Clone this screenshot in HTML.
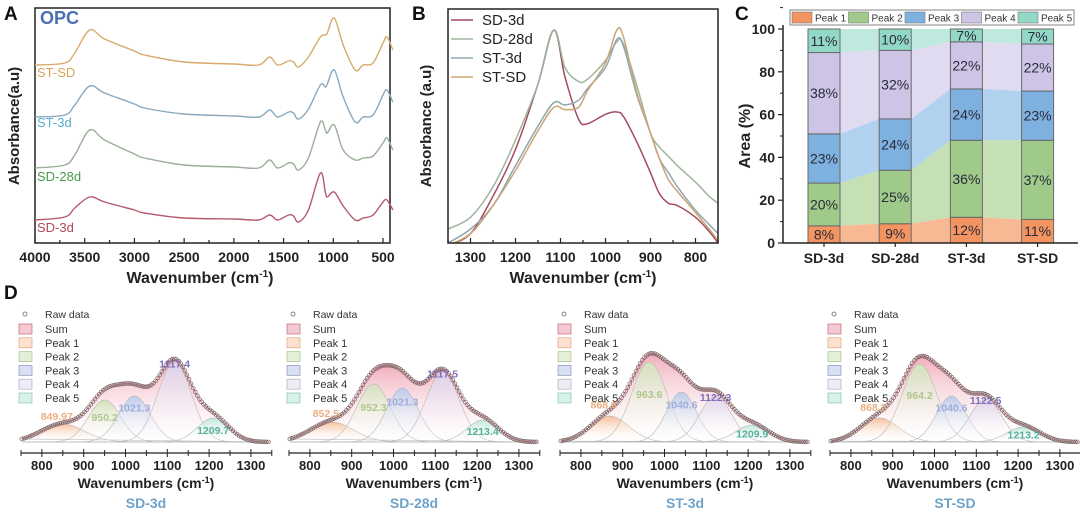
<!DOCTYPE html>
<html><head><meta charset="utf-8"><style>
body{margin:0;background:#fff}
svg{display:block;font-family:"Liberation Sans",Arial,sans-serif}
</style></head><body>
<svg id="fig" width="1080" height="514" viewBox="0 0 1080 514" xmlns="http://www.w3.org/2000/svg">
<defs>
<linearGradient id="gSum" x1="0" y1="0" x2="0" y2="1"><stop offset="0" stop-color="#ee9fb0" stop-opacity="0.85"/><stop offset="1" stop-color="#fff" stop-opacity="0.2"/></linearGradient>
<linearGradient id="gP1" x1="0" y1="0" x2="0" y2="1"><stop offset="0" stop-color="#f6c09a"/><stop offset="1" stop-color="#fff" stop-opacity="0"/></linearGradient>
<linearGradient id="gP2" x1="0" y1="0" x2="0" y2="1"><stop offset="0" stop-color="#d3e4bd"/><stop offset="1" stop-color="#fff" stop-opacity="0"/></linearGradient>
<linearGradient id="gP3" x1="0" y1="0" x2="0" y2="1"><stop offset="0" stop-color="#bccbeb"/><stop offset="1" stop-color="#fff" stop-opacity="0"/></linearGradient>
<linearGradient id="gP4" x1="0" y1="0" x2="0" y2="1"><stop offset="0" stop-color="#dcd3ec"/><stop offset="1" stop-color="#fff" stop-opacity="0"/></linearGradient>
<linearGradient id="gP5" x1="0" y1="0" x2="0" y2="1"><stop offset="0" stop-color="#bfe9dc"/><stop offset="1" stop-color="#fff" stop-opacity="0"/></linearGradient>
</defs>
</svg>
<script>
// ---------- Panel A data (wavenumber, offset above baseline in px) ----------
const aNames = ["ST-SD","ST-3d","SD-28d","SD-3d"];
const aWn = [4000,3700,3600,3450,3300,3000,2900,2500,2000,1750,1640,1560,1450,1400,1350,1250,1130,1080,1060,990,900,780,700,600,500,460,400];
const aSTSD = [0,2,12,35,26,14,10,3,1,0,8,0,4,3,-2,8,28,30,32,47,20,-5,0,2,22,28,15];
const aST3d = [0,2,12,31,24,13,9,3,1,0,7,0,5,4,-2,8,32,30,33,47,20,-5,0,2,22,27,15];
const aSD28 = [0,3,13,38,28,14,10,3,1,0,8,0,5,4,-2,10,46,38,35,43,18,8,10,12,25,30,18];
const aSD3d = [0,3,12,23,18,10,7,2,1,0,5,0,5,4,-2,10,47,28,23,28,14,0,2,5,18,20,10];
const aBase = [65,117,168,220];
// ---------- Panel B data (fraction of plot height) ----------
const bNames = ["SD-3d","SD-28d","ST-3d","ST-SD"];
const bWn = [1350,1300,1250,1200,1150,1115,1090,1060,1040,1000,975,960,930,900,880,860,840,800,770,750];
const bSD3d = [-0.01,0.04,0.20,0.40,0.68,0.91,0.71,0.53,0.51,0.55,0.56,0.54,0.43,0.30,0.21,0.17,0.16,0.11,0.05,0.0];
const bSD28 = [0.06,0.11,0.24,0.44,0.68,0.91,0.75,0.69,0.70,0.78,0.86,0.85,0.67,0.47,0.41,0.37,0.33,0.26,0.20,0.17];
const bST3d = [0.0,0.06,0.16,0.33,0.50,0.60,0.59,0.61,0.66,0.75,0.87,0.84,0.63,0.47,0.36,0.30,0.24,0.14,0.08,0.04];
const bSTSD = [-0.01,0.04,0.16,0.31,0.48,0.58,0.57,0.58,0.65,0.77,0.91,0.88,0.64,0.47,0.36,0.27,0.22,0.13,0.06,0.01];
// ---------- Panel C data ----------
const cCats = ["SD-3d","SD-28d","ST-3d","ST-SD"];
const cPeaks = ["Peak 1","Peak 2","Peak 3","Peak 4","Peak 5"];
const cP1 = [8,9,12,11];
const cP2 = [20,25,36,37];
const cP3 = [23,24,24,23];
const cP4 = [38,32,22,22];
const cP5 = [11,10,7,7];
const cTicks = [0,20,40,60,80,100];
// ---------- Panel D data (peak centers, heights px, sigmas) ----------
const dNames = ["SD-3d","SD-28d","ST-3d","ST-SD"];
const dCenters = [[849.97,950.2,1021.3,1117.4,1209.7],[852.5,952.3,1021.3,1117.5,1213.4],[868.9,963.6,1040.6,1122.3,1209.9],[868.2,964.2,1040.6,1122.5,1213.2]];
const dHeights = [[18,42,46,80,24],[20,58,54,70,22],[26,80,50,46,17],[24,78,46,43,15]];
const dSigmas = [[52,38,38,40,38],[52,40,38,40,38],[46,42,36,38,40],[46,42,36,38,40]];
const dLabels = [["849.97","950.2","1021.3","1117.4","1209.7"],["852.5","952.3","1021.3","1117.5","1213.4"],["868.9","963.6","1040.6","1122.3","1209.9"],["868.2","964.2","1040.6","1122.5","1213.2"]];
const dTicks = [800,900,1000,1100,1200,1300];

const svg = document.getElementById('fig');
const NS = "http://www.w3.org/2000/svg";
function mk(tag, attrs, parent){const e=document.createElementNS(NS,tag);for(const k in attrs)e.setAttribute(k,attrs[k]);(parent||svg).appendChild(e);return e;}
function txt(s,x,y,size,opts,parent){const e=mk('text',Object.assign({x:x,y:y,'font-size':size},opts||{}),parent);e.textContent=s;return e;}
function smooth(pts){let d="M"+pts[0][0].toFixed(1)+","+pts[0][1].toFixed(1);for(let i=0;i<pts.length-1;i++){const p0=pts[i-1]||pts[i],p1=pts[i],p2=pts[i+1],p3=pts[i+2]||p2;const c1=[p1[0]+(p2[0]-p0[0])/6,p1[1]+(p2[1]-p0[1])/6],c2=[p2[0]-(p3[0]-p1[0])/6,p2[1]-(p3[1]-p1[1])/6];d+="C"+c1[0].toFixed(1)+","+c1[1].toFixed(1)+" "+c2[0].toFixed(1)+","+c2[1].toFixed(1)+" "+p2[0].toFixed(1)+","+p2[1].toFixed(1);}return d;}

// ===== Panel A =====
const gA = mk('g',{});


const axL=35, axR=390, axT=8, axB=243;
const xA = w => axL + (4000-w)*(348/3500);
mk('rect',{x:axL,y:axT,width:axR-axL,height:axB-axT,fill:'none',stroke:'#222','stroke-width':1.5},gA);
const aSeries=[aSTSD,aST3d,aSD28,aSD3d];
const aLine=['#d8aa6a','#8aa8bc','#9aae98','#b35a6c'];
const aTxt=['#d9a55a','#5aaed0','#4a9a4a','#b04a5a'];
const aLabY=[77,127,181,232];
aSeries.forEach((s,i)=>{
  const p=mk('path',{d:smooth(aWn.map((w,j)=>[xA(w),aBase[i]-s[j]])),fill:'none',stroke:aLine[i],'stroke-width':1.4},gA);
  
  
  const t=txt(aNames[i],37,aLabY[i],13,{fill:aTxt[i]},gA);
  
  
});
for(let w=4000;w>=500;w-=250){const x=xA(w);const big=w%500===0;mk('line',{x1:x,x2:x,y1:axB,y2:axB-(big?5:3),stroke:'#222','stroke-width':1.2},gA);
  if(big){const t=txt(String(w),x,262,14,{'font-weight':'bold','text-anchor':'middle',fill:'#222'},gA);}}
txt('Wavenumber (cm',200,283,16,{'font-weight':'bold','text-anchor':'middle',fill:'#222',},gA).innerHTML='Wavenumber (cm<tspan dy="-6" font-size="10">-1</tspan><tspan dy="6">)</tspan>';
txt('Absorbance(a.u)',0,0,15,{'font-weight':'bold','text-anchor':'middle',fill:'#222',transform:'translate(19,126) rotate(-90)',},gA);
txt('OPC',40,24,18,{'font-weight':'bold',fill:'#4b6fb2',},gA);
txt('A',4,20,19,{'font-weight':'bold',fill:'#111',},gA);

// ===== Panel B =====
const gB = mk('g',{});


const bL=448,bR=718,bT=9,bB=243;
const xB=w=>bL+(1350-w)*(bR-bL)/600, yB=v=>bB-v*(bB-bT);
const cp=mk('clipPath',{id:'clipB'},gB);mk('rect',{x:bL,y:bT,width:bR-bL,height:bB-bT},cp);
const bSeries=[bSD3d,bSD28,bST3d,bSTSD];
const bCol=['#a34b5e','#9fb59d','#8fa8b2','#cda574'];
bSeries.forEach((s,i)=>{const p=mk('path',{d:smooth(bWn.map((w,j)=>[xB(w),yB(s[j])])),fill:'none',stroke:bCol[i],'stroke-width':1.5,'clip-path':'url(#clipB)'},gB);
  
  
  const ly=20+i*19;
  mk('line',{x1:451,x2:473,y1:ly,y2:ly,stroke:bCol[i],'stroke-width':1.6},gB);
  const t=txt(bNames[i],482,ly+5,15,{fill:'#222'},gB);
  
  
});
mk('rect',{x:bL,y:bT,width:bR-bL,height:bB-bT,fill:'none',stroke:'#222','stroke-width':1.5},gB);
for(let w=1350;w>=750;w-=50){const x=xB(w);const big=w%100===0;mk('line',{x1:x,x2:x,y1:bB,y2:bB-(big?5:3),stroke:'#222','stroke-width':1.2},gB);
  if(big&&w<=1300&&w>=800){const t=txt(String(w),x,262,14,{'font-weight':'bold','text-anchor':'middle',fill:'#222'},gB);}}
txt('',583,283,16,{'font-weight':'bold','text-anchor':'middle',fill:'#222',},gB).innerHTML='Wavenumber (cm<tspan dy="-6" font-size="10">-1</tspan><tspan dy="6">)</tspan>';
txt('Absorbance (a.u)',0,0,15,{'font-weight':'bold','text-anchor':'middle',fill:'#222',transform:'translate(431,126) rotate(-90)',},gB);
txt('B',412,20,19,{'font-weight':'bold',fill:'#111',},gB);

// ===== Panel C =====
const gC = mk('g',{});


const cL=783,cR=1078,cT=29,cB=243;
const yC=v=>cB-v*(cB-cT)/100;
const xC=i=>824+i*71.2, bw=32;
const cVals=[cP1,cP2,cP3,cP4,cP5];
const barCol=['#f39461','#9fca8a','#7eb1df','#cdc4e6','#92d8c7'];
const bandCol=['#f9b894','#c5e0b4','#b0d2ee','#e0dbf0','#bfe9de'];
const cum=cCats.map((_,i)=>{let s=0;return cVals.map(v=>{s+=v[i];return Math.min(s,100);});});
for(let k=4;k>=0;k--){const top=[],bot=[];cCats.forEach((_,i)=>{const lo=k?cum[i][k-1]:0,hi=cum[i][k];top.push([xC(i)-bw/2,yC(hi)],[xC(i)+bw/2,yC(hi)]);bot.push([xC(i)-bw/2,yC(lo)],[xC(i)+bw/2,yC(lo)]);});
  const d='M'+top.map(p=>p.join(',')).join('L')+'L'+bot.reverse().map(p=>p.join(',')).join('L')+'Z';
  const p=mk('path',{d:d,fill:bandCol[k]},gC);}
cCats.forEach((c,i)=>{cVals.forEach((v,k)=>{const lo=k?cum[i][k-1]:0,hi=cum[i][k];
  const r=mk('rect',{x:xC(i)-bw/2,y:yC(hi),width:bw,height:yC(lo)-yC(hi),fill:barCol[k],stroke:'#6a6a6a','stroke-width':1},gC);
  
  const t=txt(v[i]+'%',xC(i),(yC(hi)+yC(lo))/2+5,14,{'text-anchor':'middle',fill:'#2a2a3a'},gC);});
  const t=txt(c,xC(i),263,14,{'font-weight':'bold','text-anchor':'middle',fill:'#222'},gC);
  mk('line',{x1:xC(i),x2:xC(i),y1:cB,y2:cB+4,stroke:'#222','stroke-width':1.2},gC);});
mk('line',{x1:cL,x2:cL,y1:cT-4,y2:cB,stroke:'#222','stroke-width':1.5},gC);
mk('line',{x1:cL,x2:cR,y1:cB,y2:cB,stroke:'#222','stroke-width':1.5},gC);
cTicks.forEach(v=>{mk('line',{x1:cL-5,x2:cL,y1:yC(v),y2:yC(v),stroke:'#222','stroke-width':1.2},gC);mk('line',{x1:cL-3,x2:cL,y1:yC(v+10),y2:yC(v+10),stroke:'#222','stroke-width':1},gC);
  const t=txt(String(v),cL-8,yC(v)+5,14,{'font-weight':'bold','text-anchor':'end',fill:'#222'},gC);});
txt('Area (%)',0,0,16,{'font-weight':'bold','text-anchor':'middle',fill:'#222',transform:'translate(750,136) rotate(-90)',},gC);
mk('rect',{x:790,y:10,width:284,height:15,fill:'#fff',stroke:'#666','stroke-width':0.8},gC);
cPeaks.forEach((p,k)=>{const x=792+k*56.5;const r=mk('rect',{x:x,y:12,width:20,height:11,fill:barCol[k],stroke:'#777','stroke-width':0.6},gC);
  
  const t=txt(p,x+23,21.5,10,{fill:'#333'},gC);});
txt('C',735,20,19,{'font-weight':'bold',fill:'#111',},gC);

// ===== Panel D =====
txt('D',4,299,19,{'font-weight':'bold',fill:'#111',});
const dOff=[0,268,539,809];
const pFill=['url(#gP1)','url(#gP2)','url(#gP3)','url(#gP4)','url(#gP5)'];
const pLab=['#e9a574','#a9c386','#93a9d9','#7462b3','#45aa92'];
const legNames=['Sum','Peak 1','Peak 2','Peak 3','Peak 4','Peak 5'];
const legFill=['#f5c9d2','#fde1cf','#e4efd7','#d8e0f2','#eeecf5','#d8f2ea'];
const legStroke=['#c26a7c','#e3a586','#abc293','#8795c3','#b4acc9','#86c2b2'];
const labDy=[1.45,0.6,0.75,0.98,0.5];
const base=442;
dNames.forEach((nm,s)=>{
  const g=mk('g',{});
  
  
  const o=dOff[s];
  const xD=w=>o+21+(w-750)*0.418;
  const gauss=(k,w)=>dHeights[s][k]*Math.exp(-Math.pow(w-dCenters[s][k],2)/(2*dSigmas[s][k]*dSigmas[s][k]));
  const ws=[];for(let w=752;w<=1345;w+=4)ws.push(w);
  const sum=w=>{let t=0;for(let k=0;k<5;k++)t+=gauss(k,w);return t;};
  const sp=ws.map(w=>[xD(w),base-sum(w)]);
  mk('path',{d:'M'+sp.map(p=>p[0].toFixed(1)+','+p[1].toFixed(1)).join('L')+'L'+xD(1345)+','+base+'L'+xD(752)+','+base+'Z',fill:'url(#gSum)'},g);
  for(let k=0;k<5;k++){const pp=ws.map(w=>[xD(w),base-gauss(k,w)]);
    const p=mk('path',{d:'M'+pp.map(p=>p[0].toFixed(1)+','+p[1].toFixed(1)).join('L')+'Z',fill:pFill[k],stroke:'#b8b8b8','stroke-width':0.6},g);
    }
  mk('line',{x1:xD(752),x2:xD(1345),y1:base,y2:base,stroke:'#bbb','stroke-width':0.6},g);
  const sl=mk('path',{d:'M'+sp.map(p=>p[0].toFixed(1)+','+p[1].toFixed(1)).join('L'),fill:'none',stroke:'#c07080','stroke-width':0.8},g);
  
  for(let w=752;w<=1345;w+=5){mk('circle',{cx:xD(w),cy:base-sum(w),r:1.9,fill:'none',stroke:'#7a6262','stroke-width':0.7},g);}
  for(let k=0;k<5;k++){const t=txt(dLabels[s][k],xD(dCenters[s][k])-(k===0?6:0),base-dHeights[s][k]*labDy[k]+4,10.5,{'font-weight':'bold','text-anchor':'middle',fill:pLab[k],'fill-opacity':0.9},g);
    }
  mk('line',{x1:o+21,x2:o+272,y1:453,y2:453,stroke:'#222','stroke-width':1.3},g);
  for(let w=750;w<=1350;w+=50){const x=xD(w);const big=w%100===0;mk('line',{x1:x,x2:x,y1:big?449:450,y2:big?457:456,stroke:'#222','stroke-width':1},g);}
  dTicks.forEach(w=>{const t=txt(String(w),xD(w),470,13,{'text-anchor':'middle',fill:'#222','font-weight':'bold'},g);});
  const ti=txt('',o+146,488,14,{'font-weight':'bold','text-anchor':'middle',fill:'#222'},g);ti.innerHTML='Wavenumbers (cm<tspan dy="-5" font-size="9">-1</tspan><tspan dy="5">)</tspan>';
  
  const st=txt(nm,o+146,508,14,{'font-weight':'bold','text-anchor':'middle',fill:'#6fa2c9'},g);
  const c0=mk('circle',{cx:o+25,cy:314,r:2,fill:'none',stroke:'#666','stroke-width':0.8},g);
  
  txt('Raw data',o+45,318,10.5,{fill:'#333'},g);
  legNames.forEach((ln,k)=>{const y=329+k*13.8;const r=mk('rect',{x:o+19,y:y-5,width:13,height:10,fill:legFill[k],stroke:legStroke[k],'stroke-width':0.7},g);
    
    const t=txt(ln,o+45,y+4,11,{fill:'#333'},g);});
});
</script>
</body></html>
